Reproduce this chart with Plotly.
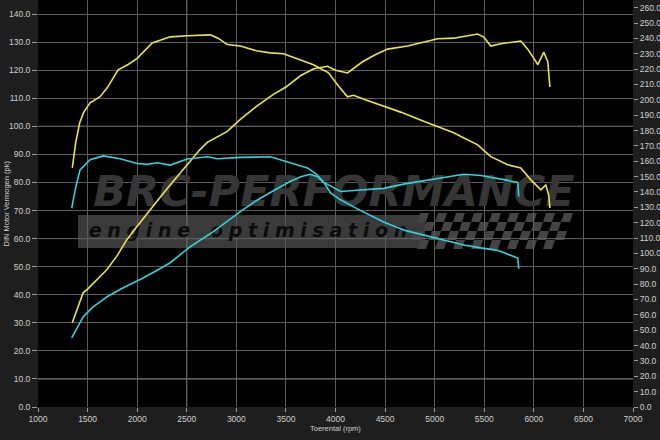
import plotly.graph_objects as go

# ---------------- data ----------------
tuned_power_rpm = [1346, 1400, 1455, 1500, 1600, 1694, 1800, 1896, 2000, 2131, 2250, 2364, 2500, 2636, 2707,
                   2800, 2909, 3040, 3200, 3374, 3500, 3646, 3780, 3919, 4000, 4121, 4200, 4273, 4400, 4525,
                   4727, 4929, 5030, 5192, 5300, 5434, 5495, 5566, 5680, 5768, 5869, 5939, 6040, 6101, 6141, 6162]
tuned_power_pk = [30, 35, 40.7, 42, 45.5, 48.9, 54, 59.6, 64.4, 70.4, 75.5, 80.4, 86, 91.8, 94.3,
                  96, 98.2, 102.5, 107, 111.4, 114, 118, 120.5, 121.4, 120, 119, 121, 123, 125.5, 127.5,
                  128.6, 130.4, 131.2, 131.4, 132, 132.9, 131.8, 128.6, 129.5, 130, 130.4, 127.5, 122, 126.4, 122.9, 114]

tuned_torque_rpm = [1346, 1380, 1420, 1458, 1525, 1626, 1700, 1808, 1909, 2000, 2152, 2333, 2505, 2667, 2737,
                    2820, 2909, 3040, 3200, 3343, 3475, 3600, 3778, 3930, 4030, 4121, 4182, 4300, 4455, 4657,
                    4889, 5061, 5192, 5300, 5434, 5566, 5737, 5869, 5970, 6071, 6121, 6150, 6162]
tuned_torque_nm = [155.7, 172, 185, 191.5, 198, 202, 208, 219.5, 223, 227, 237, 241, 241.7, 242.3, 242.3,
                   240, 236, 235, 232, 230.6, 230, 227, 222.8, 217.6, 209, 202, 203, 200, 196.7, 192,
                   186, 181.7, 178.5, 175, 170.7, 163, 157.7, 155.7, 147.9, 141.4, 144.6, 138, 129.6]

stock_power_rpm = [1340, 1400, 1455, 1550, 1697, 1850, 2030, 2180, 2333, 2535, 2768, 3040, 3200, 3343, 3545,
                   3650, 3747, 3820, 3879, 3960, 4050, 4250, 4485, 4700, 4960, 5293, 5465, 5535, 5697, 5838, 5848]
stock_power_pk = [24.6, 28.5, 32.1, 35.5, 39.3, 42.3, 45.4, 48.3, 51.4, 57.1, 62.5, 69.6, 73.5, 76.4, 80.4,
                  82, 82.9, 82, 80, 78.6, 76.8, 77.3, 77.9, 79.5, 81, 82.9, 82.5, 82.1, 81, 80, 75]

stock_torque_rpm = [1340, 1380, 1424, 1525, 1657, 1828, 2000, 2100, 2202, 2333, 2505, 2707, 2808, 3040, 3343,
                    3515, 3717, 3800, 3879, 3950, 4050, 4250, 4485, 4700, 4960, 5293, 5465, 5636, 5838, 5848]
stock_torque_nm = [129.4, 143, 154.4, 161, 163.5, 161.6, 158.5, 158, 159, 157.5, 161.5, 162.9, 161.6, 162.5, 162.9,
                   159.6, 155.7, 152, 146.6, 139.4, 134.9, 128, 120.5, 115, 110.7, 105.5, 103.6, 102, 97, 90]

x_title = "Toerental (rpm)"
y_title = "DIN Motor Vermogen (pk)"
logo_text = "BRC-PERFORMANCE"
logo_sub = "engine optimisation"

YELLOW = "#ece44a"
CYAN = "#2fd3da"

# ---------------- geometry helpers (decoration only) ----------------
L, R, T, B = 38, 633, 0, 407
X0, X1, Y0, Y1 = 1000, 7000, 0, 145


def px2x(px):
    return X0 + (px - L) / (R - L) * (X1 - X0)


def py2y(py):
    return Y0 + (B - py) / (B - T) * (Y1 - Y0)


def px2p(px):
    return (px - L) / (R - L)


def py2p(py):
    return (B - py) / (B - T)


fig = go.Figure()

# watermark text (drawn beneath the curves)
fig.add_trace(go.Scatter(
    x=[px2x(334)], y=[py2y(195)], mode="text", text=[logo_text],
    textfont=dict(family="DejaVu Sans", size=43, color="#363636", weight="bold", style="italic"),
    hoverinfo="skip", showlegend=False))
words = logo_sub.split(" ")
sub = "\u00a0\u00a0\u00a0".join("\u2009\u200a".join(list(w)) for w in words)
fig.add_trace(go.Scatter(
    x=[px2x(248)], y=[py2y(232)], mode="text", text=[sub],
    textfont=dict(family="DejaVu Sans", size=19, color="#0c0c0c", weight="bold", style="italic"),
    hoverinfo="skip", showlegend=False))

fig.add_trace(go.Scatter(x=tuned_power_rpm, y=tuned_power_pk, mode="lines",
                         line=dict(color=YELLOW, width=1.6), showlegend=False, yaxis="y"))
fig.add_trace(go.Scatter(x=tuned_torque_rpm, y=tuned_torque_nm, mode="lines",
                         line=dict(color=YELLOW, width=1.6), showlegend=False, yaxis="y2"))
fig.add_trace(go.Scatter(x=stock_power_rpm, y=stock_power_pk, mode="lines",
                         line=dict(color=CYAN, width=1.6), showlegend=False, yaxis="y"))
fig.add_trace(go.Scatter(x=stock_torque_rpm, y=stock_torque_nm, mode="lines",
                         line=dict(color=CYAN, width=1.6), showlegend=False, yaxis="y2"))

shapes = []
# logo band
shapes.append(dict(type="rect", xref="paper", yref="paper", x0=px2p(78), x1=px2p(425),
                   y0=py2p(248), y1=py2p(215), fillcolor="#3a3a3a", line=dict(width=0), layer="below"))
# checkered flag
sq = 9
for r in range(4):
    for c in range(17):
        if (r + c) % 2:
            continue
        xa = 420 + c * sq - r * 3
        ya = 213 + r * sq
        path = "M {} {} L {} {} L {} {} L {} {} Z".format(
            px2p(xa), py2p(ya), px2p(xa + sq), py2p(ya),
            px2p(xa + sq - 3), py2p(ya + sq), px2p(xa - 3), py2p(ya + sq))
        shapes.append(dict(type="path", xref="paper", yref="paper", path=path,
                           fillcolor="#444444", line=dict(width=0), layer="below"))
# brighter grid lines
for yv in [10, 60, 100]:
    shapes.append(dict(type="line", xref="paper", yref="y", x0=0, x1=1, y0=yv, y1=yv,
                       line=dict(color="#9a9a9a", width=1), layer="between"))
shapes.append(dict(type="line", xref="x", yref="paper", x0=2500, x1=2500, y0=0, y1=1,
                   line=dict(color="#9a9a9a", width=1), layer="between"))

tickfont = dict(family="Liberation Sans, Arial, sans-serif", size=8.5, color="#cfcfcf")

fig.update_layout(
    width=660, height=440,
    margin=dict(l=L, r=660 - R, t=T, b=440 - B, autoexpand=False),
    paper_bgcolor="#1e1e1e", plot_bgcolor="#000000",
    showlegend=False,
    shapes=shapes,
    xaxis=dict(range=[X0, X1], tick0=1000, dtick=500, showgrid=True, gridcolor="#5c5c5c", gridwidth=1,
               ticks="outside", ticklen=4, tickcolor="#9a9a9a", tickfont=tickfont, automargin=False,
               zeroline=False, showline=False, fixedrange=True),
    yaxis=dict(range=[Y0, Y1], tick0=0, dtick=10, tickformat=".1f", showgrid=True, gridcolor="#5c5c5c",
               gridwidth=1, ticks="outside", ticklen=5, tickcolor="#9a9a9a", tickfont=tickfont,
               automargin=False, zeroline=False, showline=False),
    yaxis2=dict(range=[0, 265], tick0=0, dtick=10, tickformat=".1f", overlaying="y", side="right",
                showgrid=False, ticks="outside", ticklen=4, tickcolor="#9a9a9a", tickfont=tickfont,
                automargin=False, zeroline=False, showline=False),
    annotations=[
        dict(text=x_title, xref="paper", yref="paper", x=0.5, y=py2p(429), xanchor="center", yanchor="middle",
             showarrow=False, font=dict(family="Liberation Sans, Arial, sans-serif", size=7.5, color="#cfcfcf")),
        dict(text=y_title, xref="paper", yref="paper", x=px2p(6), y=0.5, xanchor="center", yanchor="middle",
             textangle=-90, showarrow=False,
             font=dict(family="Liberation Sans, Arial, sans-serif", size=7.5, color="#cfcfcf")),
    ],
)

fig.write_html("out.html", config={"displayModeBar": False},
               post_script="document.body.style.margin='0';document.body.style.overflow='hidden';")
